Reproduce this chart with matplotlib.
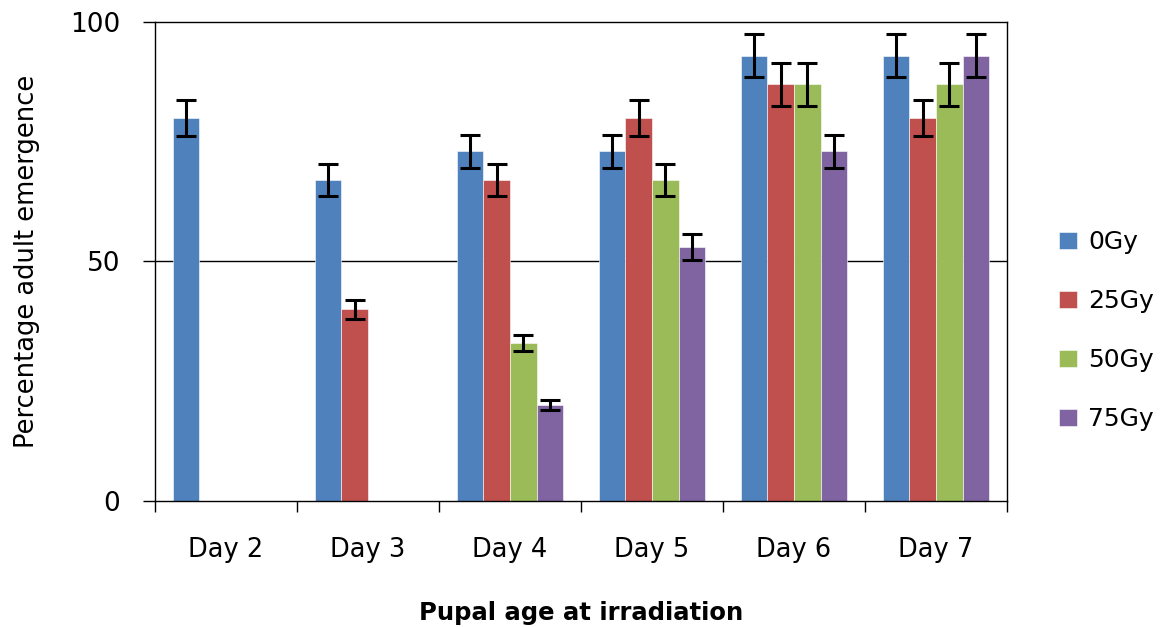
import numpy as np
import matplotlib
matplotlib.use("Agg")
import matplotlib.pyplot as plt

# values
days = ["Day 2", "Day 3", "Day 4", "Day 5", "Day 6", "Day 7"]
doses = ["0Gy", "25Gy", "50Gy", "75Gy"]
colors = ["#4F81BD", "#C0504D", "#9BBB59", "#8064A2"]

# nan = no bar
emerg_0 = [80, 67, 73, 73, 93, 93]
emerg_25 = [np.nan, 40, 67, 80, 87, 80]
emerg_50 = [np.nan, np.nan, 33, 67, 87, 87]
emerg_75 = [np.nan, np.nan, 20, 53, 73, 93]

err_0 = [3.8, 3.3, 3.5, 3.5, 4.4, 4.4]
err_25 = [0, 2.0, 3.3, 3.8, 4.5, 3.8]
err_50 = [0, 0, 1.6, 3.3, 4.5, 4.5]
err_75 = [0, 0, 1.0, 2.7, 3.5, 4.4]

values = [emerg_0, emerg_25, emerg_50, emerg_75]
errors = [err_0, err_25, err_50, err_75]

fig = plt.figure(figsize=(11.64, 6.27), dpi=100)
ax = fig.add_axes([0.1332, 0.2010, 0.7319, 0.7639])

x = np.arange(len(days))
w = 0.188
for i in range(4):
    pos = x + (i - 1.5) * w
    v = np.array(values[i], dtype=float)
    e = np.array(errors[i], dtype=float)
    ok = ~np.isnan(v)
    ax.bar(pos[ok], v[ok], width=w, color=colors[i], label=doses[i],
           edgecolor="white", linewidth=0.4, zorder=2)
    ax.errorbar(pos[ok], v[ok], yerr=e[ok], fmt="none", ecolor="black",
                elinewidth=2.2, capsize=7, capthick=2.2, zorder=3)

ax.set_xlim(-0.5, 5.5)
ax.set_ylim(0, 100)
ax.set_yticks([0, 50, 100])
ax.set_xticks(np.arange(-0.5, 6, 1))
ax.set_xticklabels([])
ax.set_xticks(x, minor=True)
ax.set_xticklabels(days, minor=True)
ax.tick_params(axis="x", which="minor", length=0, pad=26, labelsize=18.5)
ax.tick_params(axis="x", which="major", length=8, width=1, direction="out")
ax.tick_params(axis="y", length=9, width=1, direction="out", labelsize=19, pad=16)
ax.axhline(50, color="black", linewidth=1, zorder=1)
for s in ax.spines.values():
    s.set_linewidth(1)

ax.set_xlabel("Pupal age at irradiation", fontsize=17.5, fontweight="bold", labelpad=27)
ax.set_ylabel("Percentage adult emergence", fontsize=18.5, labelpad=22)

ax.legend(loc="center left", bbox_to_anchor=(1.035, 0.355), frameon=False,
          fontsize=18, handlelength=0.7, handleheight=0.7, labelspacing=1.4,
          handletextpad=0.45)

fig.savefig("out.png", dpi=100)
